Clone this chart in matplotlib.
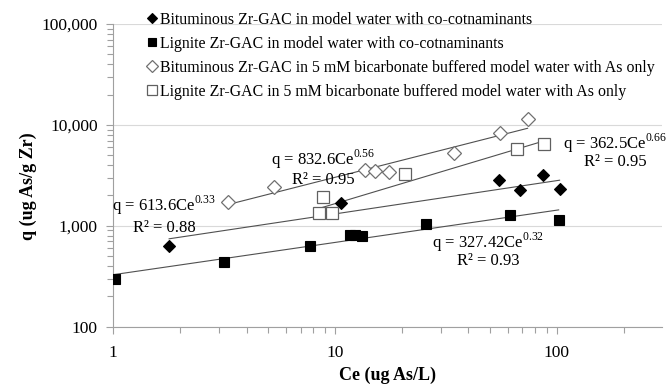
import matplotlib
matplotlib.use("Agg")
import matplotlib.pyplot as plt
import numpy as np
from matplotlib.ticker import LogLocator, FuncFormatter, NullFormatter

plt.rcParams['font.family'] = ['Liberation Serif', 'DejaVu Serif']
plt.rcParams['mathtext.fontset'] = 'custom'
plt.rcParams['mathtext.rm'] = 'Liberation Serif'

# Data (Ce in ug As/L, q in ug As/g Zr)
bit_co_x = [1.79, 10.7, 54.7, 68.0, 86.4, 103]
bit_co_y = [634, 1690, 2835, 2257, 3177, 2293]
lig_co_x = [1.02, 3.17, 7.71, 11.7, 12.35, 13.3, 25.7, 61.8, 102]
lig_co_y = [297, 437, 630, 815, 815, 791, 1047, 1268, 1131]
bit_as_x = [3.31, 5.29, 13.6, 15.1, 17.6, 34.3, 55.7, 73.9]
bit_as_y = [1729, 2399, 3561, 3505, 3426, 5330, 8410, 11390]
lig_as_x = [8.47, 8.83, 9.69, 20.8, 66.2, 87.3]
lig_as_y = [1345, 1937, 1327, 3250, 5785, 6486]

labels = [
    "Bituminous Zr-GAC in model water with co-cotnaminants",
    "Lignite Zr-GAC in model water with co-cotnaminants",
    "Bituminous Zr-GAC in 5 mM bicarbonate buffered model water with As only",
    "Lignite Zr-GAC in 5 mM bicarbonate buffered model water with As only",
]
# power-law fits q = K * Ce^n
fit_K = [613.6, 327.42, 832.6, 362.5]
fit_n = [0.33, 0.32, 0.56, 0.66]
fit_K_txt = ["613.6", "327.42", "832.6", "362.5"]
fit_r2 = ["0.88", "0.93", "0.95", "0.95"]

fig = plt.figure(figsize=(6.7, 3.88), dpi=100)
ax = fig.add_axes([0.1687, 0.158, 0.988 - 0.1687, 0.938 - 0.158])
ax.set_xscale('log')
ax.set_yscale('log')
ax.set_xlim(1, 298)
ax.set_ylim(100, 100000)

series = [(bit_co_x, bit_co_y), (lig_co_x, lig_co_y), (bit_as_x, bit_as_y), (lig_as_x, lig_as_y)]
styles = [
    dict(marker='D', ms=6.5, mfc='black', mec='black', mew=0.8),
    dict(marker='s', ms=7.5, mfc='black', mec='black', mew=0.8),
    dict(marker='D', ms=7, mfc='white', mec='#707070', mew=0.9),
    dict(marker='s', ms=8, mfc='white', mec='#606060', mew=0.9),
]

handles = []
for (xs, ys), st, lab, K, n in zip(series, styles, labels, fit_K, fit_n):
    xx = np.logspace(np.log10(min(xs)), np.log10(max(xs)), 50)
    ax.plot(xx, K * xx ** n, color='#505050', lw=0.8, zorder=2)
    h, = ax.plot(xs, ys, linestyle='none', zorder=3, label=lab, **st)
    handles.append(h)

# grid & spines
ax.yaxis.grid(True, which='major', color='#d9d9d9', lw=0.8)
ax.set_axisbelow(True)
for s in ['top', 'right']:
    ax.spines[s].set_visible(False)
for s in ['left', 'bottom']:
    ax.spines[s].set_color('#a0a0a0')
    ax.spines[s].set_linewidth(0.8)

ax.xaxis.set_major_locator(LogLocator(base=10, numticks=10))
ax.xaxis.set_minor_locator(LogLocator(base=10, subs=np.arange(2, 10), numticks=10))
ax.yaxis.set_major_locator(LogLocator(base=10, numticks=10))
ax.yaxis.set_minor_locator(LogLocator(base=10, subs=np.arange(2, 10), numticks=10))
fmt = FuncFormatter(lambda v, p: f"{v:,.0f}")
ax.xaxis.set_major_formatter(fmt)
ax.yaxis.set_major_formatter(fmt)
ax.xaxis.set_minor_formatter(NullFormatter())
ax.yaxis.set_minor_formatter(NullFormatter())
ax.tick_params(which='both', direction='out', color='#a0a0a0', width=0.8, labelsize=12.5)
ax.tick_params(which='major', length=5)
ax.tick_params(which='minor', length=4)
ax.tick_params(axis='x', pad=8)
ax.tick_params(axis='y', pad=6)

ax.set_xlabel("Ce (ug As/L)", fontsize=13, fontweight='bold', labelpad=4)
fig.text(0.042, 0.52, "q (ug As/g Zr)", rotation=90, fontsize=13, fontweight='bold',
         ha='center', va='center')

# equations
ann = [
    (164 / 670, 1 - 205 / 388, 0),
    (488 / 670, 1 - 242 / 388, 1),
    (323 / 670, 1 - 159 / 388, 2),
    (615 / 670, 1 - 143 / 388, 3),
]
r2pos = [
    (164 / 670, 1 - 228 / 388),
    (488 / 670, 1 - 261 / 388),
    (323 / 670, 1 - 180 / 388),
    (615 / 670, 1 - 162 / 388),
]
for (x, y, i), (rx, ry) in zip(ann, r2pos):
    fig.text(x, y, f"q = {fit_K_txt[i]}Ce$^{{\\mathregular{{{fit_n[i]:.2f}}}}}$", fontsize=12,
             ha='center', va='center')
    fig.text(rx, ry, f"R² = {fit_r2[i]}", fontsize=12, ha='center', va='center')

leg = ax.legend(handles=handles, loc='upper left', bbox_to_anchor=(139 / 670, 1 - 4 / 388),
                bbox_transform=fig.transFigure, frameon=False, fontsize=11.4,
                handlelength=0.6, handletextpad=0.25, labelspacing=0.5, borderpad=0,
                markerscale=0.85)

fig.savefig("out.png", dpi=100)
